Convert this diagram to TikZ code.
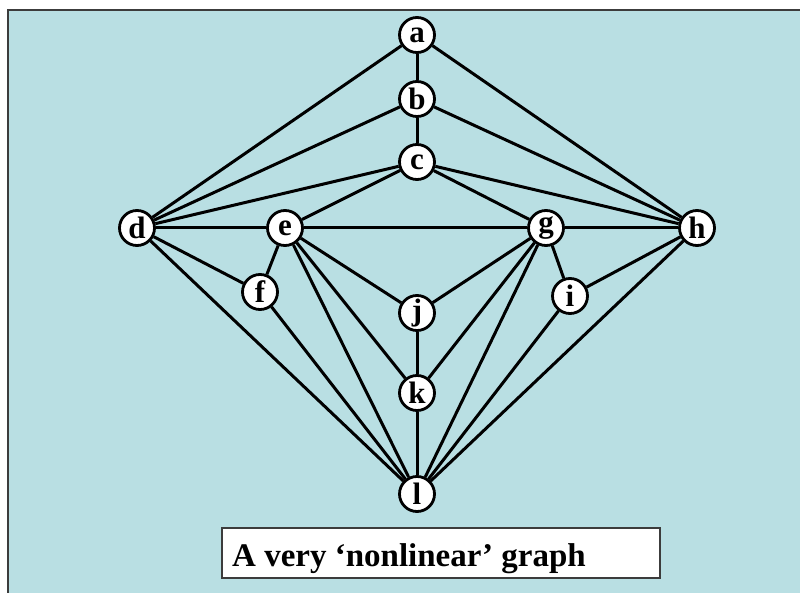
\documentclass[tikz,border=0pt]{standalone}
\usepackage{fontspec}
\setmainfont{Liberation Serif}
\definecolor{panelblue}{RGB}{185,223,227}
\definecolor{framegray}{RGB}{60,60,60}
\tikzset{
  vertex/.style={circle, draw=black, fill=white, line width=2.8pt,
    minimum size=35pt, inner sep=0pt,
    font=\fontsize{31}{31}\selectfont\bfseries},
  link/.style={line width=3pt, black},
  captionbox/.style={draw=framegray, fill=white, line width=1.2pt,
    minimum width=438pt, minimum height=50pt, inner sep=0pt},
  captiontext/.style={anchor=base west, inner sep=0pt,
    font=\fontsize{33}{33}\selectfont\bfseries}
}
\begin{document}
\begin{tikzpicture}[x=1pt, y=-1pt]
  \useasboundingbox (0,0) rectangle (800,593);
  % panel with its frame on the top and left edges
  \fill[white] (0,0) rectangle (800,593);
  \fill[panelblue] (8,10) rectangle (800,593);
  \draw[framegray, line width=1.6pt] (8,593) -- (8,10) -- (800,10);

  % vertices
  \node[vertex] (a) at (417,35)  {a};
  \node[vertex] (b) at (417,99)  {b};
  \node[vertex] (c) at (417,162) {c};
  \node[vertex] (d) at (137,228) {d};
  \node[vertex] (e) at (285,228) {e};
  \node[vertex] (g) at (546,228) {g};
  \node[vertex] (h) at (697,228) {h};
  \node[vertex] (f) at (260,292) {f};
  \node[vertex] (i) at (570,296) {i};
  \node[vertex] (j) at (417,313) {j};
  \node[vertex] (k) at (417,393) {k};
  \node[vertex] (l) at (417,494) {l};

  % edges
  \foreach \u/\v in {a/b, b/c, a/d, a/h, b/d, b/h, c/d, c/e, c/g, c/h,
                     d/e, e/g, g/h, d/f, e/f, d/l, f/l,
                     e/j, e/k, e/l, g/j, g/k, g/l, g/i,
                     h/i, h/l, i/l, j/k, k/l}
    \draw[link] (\u) -- (\v);

  % caption
  \node[captionbox] (capbox) at (441,553) {};
  \node[captiontext] (cap) at (232,566) {A very ‘nonlinear’ graph};
\end{tikzpicture}
\end{document}
